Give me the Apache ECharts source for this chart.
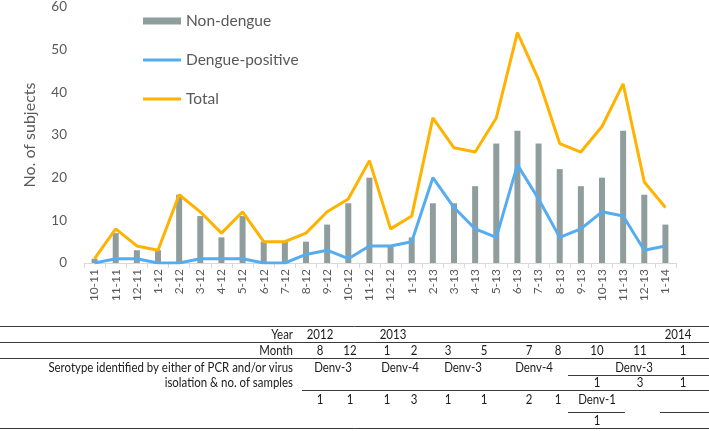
<!DOCTYPE html>
<html><head><meta charset="utf-8">
<script src="https://cdn.jsdelivr.net/npm/echarts@6/dist/echarts.min.js"></script>
<style>html,body{margin:0;padding:0;background:#fff}#c{width:709px;height:431px}</style>
</head><body><div id="c"></div>
<script>
var categories = ['10-11','11-11','12-11','1-12','2-12','3-12','4-12','5-12','6-12','7-12','8-12','9-12','10-12','11-12','12-12','1-13','2-13','3-13','4-13','5-13','6-13','7-13','8-13','9-13','10-13','11-13','12-13','1-14'];
var nonDengue = [1,7,3,3,16,11,6,11,5,5,5,9,14,20,4,6,14,14,18,28,31,28,22,18,20,31,16,9];
var denguePositive = [0,1,1,0,0,1,1,1,0,0,2,3,1,4,4,5,20,13,8,6,23,15,6,8,12,11,3,4];
var total = [1,8,4,3,16,12,7,12,5,5,7,12,15,24,8,11,34,27,26,34,54,43,28,26,32,42,19,13];
var yTicks = [0,10,20,30,40,50,60];

// table contents
var rowLabels = ['Year','Month','Serotype identified by either of PCR and/or virus','isolation & no. of samples'];
var yearCells = ['2012','2013','2014'];
var monthCells = ['8','12','1','2','3','5','7','8','10','11','1'];
var serotypeCells = ['Denv-3','Denv-4','Denv-3','Denv-4','Denv-3'];
var subCountCells = ['1','3','1'];
var countCells = ['1','1','1','3','1','1','2','1','Denv-1'];
var denv1Count = ['1'];

// layout (pixel positions of the table, separate from data)
var yearX = [320,393,678];
var monthX = [320,350,387,414,448,484,529,558,597,640,683];
var serotypeX = [333,400,463,534,634];
var subCountX = [597,640,683];
var countX = [320,350,387,414,448,484,529,558,597];
var denv1X = [597];

var FONT = 'Lato, "Open Sans", sans-serif';
var TXT = '#1a1a1a';
var g = [];
function txt(x,y,s,align){ g.push({type:'text',x:x,y:y,scaleX:0.88,style:{text:s,fill:TXT,font:'13px '+FONT,align:align||'center',verticalAlign:'middle'}}); }
function hline(x1,x2,y){ g.push({type:'line',shape:{x1:x1,y1:y,x2:x2,y2:y},style:{stroke:'#3a3a3a',lineWidth:1}}); }
hline(0,709,326.5); hline(0,709,342.5); hline(0,709,358.5);
hline(568,709,375.5); hline(302,709,390.5);
hline(568,625,412.5); hline(660,709,412.5); hline(0,709,428.5);
txt(293,335,rowLabels[0],'right');
txt(293,351,rowLabels[1],'right');
txt(293,368,rowLabels[2],'right');
txt(293,383,rowLabels[3],'right');
yearCells.forEach(function(s,i){txt(yearX[i],335,s);});
monthCells.forEach(function(s,i){txt(monthX[i],351,s);});
serotypeCells.forEach(function(s,i){txt(serotypeX[i],368,s);});
subCountCells.forEach(function(s,i){txt(subCountX[i],383,s);});
countCells.forEach(function(s,i){txt(countX[i],400,s);});
denv1Count.forEach(function(s,i){txt(denv1X[i],421,s);});

var chart = echarts.init(document.getElementById('c'));
chart.setOption({
  animation:false,
  textStyle:{fontFamily:FONT},
  grid:{left:84,right:33,top:4,bottom:168,containLabel:false},
  legend:{
    orient:'vertical', left:138, top:8, itemWidth:38, itemHeight:14, itemGap:23,
    textStyle:{fontSize:15.5,color:'#595959',fontFamily:FONT},
    data:[
      {name:'Non-dengue',icon:'path://M0,0 H38 V7 H0 Z'},
      {name:'Dengue-positive',icon:'path://M0,0 H38 V3 H0 Z'},
      {name:'Total',icon:'path://M0,0 H38 V3 H0 Z'}
    ]
  },
  xAxis:{
    type:'category', data:categories, boundaryGap:true,
    axisLine:{lineStyle:{color:'#d9d9d9'}},
    axisTick:{show:true,alignWithLabel:false,length:5,lineStyle:{color:'#d9d9d9'}},
    axisLabel:{rotate:90,fontSize:12,color:'#595959',margin:6,interval:0}
  },
  yAxis:{
    type:'value', min:0, max:60, interval:10,
    name:'No. of subjects', nameLocation:'middle', nameGap:46,
    nameTextStyle:{fontSize:16,color:'#595959'},
    axisLine:{show:false}, axisTick:{show:false}, splitLine:{show:false},
    axisLabel:{fontSize:13.5,color:'#595959',margin:17}
  },
  series:[
    {name:'Non-dengue',type:'bar',data:nonDengue,barWidth:6,itemStyle:{color:'#8f9d9c'}},
    {name:'Dengue-positive',type:'line',data:denguePositive,symbol:'none',lineStyle:{width:3,color:'#55adf0'},itemStyle:{color:'#55adf0'}},
    {name:'Total',type:'line',data:total,symbol:'none',lineStyle:{width:3,color:'#ffb300'},itemStyle:{color:'#ffb300'}}
  ],
  graphic:g
});
</script></body></html>
